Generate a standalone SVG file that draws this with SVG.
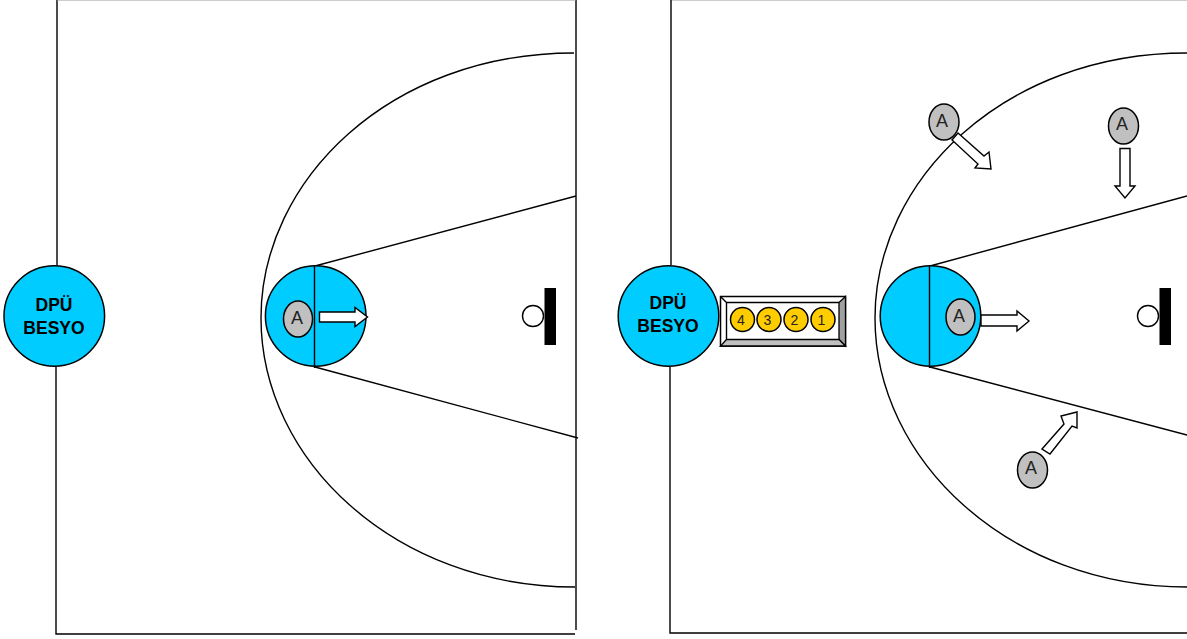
<svg xmlns="http://www.w3.org/2000/svg" width="1187" height="639" viewBox="0 0 1187 639">
<style>
.l{fill:none;stroke:#000;stroke-width:1.4}
.c{fill:#00ccff;stroke:#000;stroke-width:1.5}
.p{fill:#c0c0c0;stroke:#000;stroke-width:1.5}
.a{fill:#fff;stroke:#000;stroke-width:1.4}
.n{fill:#ffcc00;stroke:#000;stroke-width:1.5}
text{font-family:"Liberation Sans",Arial,sans-serif;text-anchor:middle;fill:#000}
.t{font-size:17.500px;font-weight:bold}
.m{font-size:18px;fill:#222}
.s{font-size:14px;fill:#222}
</style>
<rect width="1187" height="639" fill="#fff"/>
<g id="connectors">
<path class="l" d="M57 0V265M56 367V634H575M576 0V630"/>
<path d="M57 0H576M671 0H1187" fill="none" stroke="#999" stroke-width="1"/>
<path class="l" d="M574 53C390 53 261 180 261 318C261 460 395 587 575 587"/>
<path class="l" d="M315 266L576 196M315 367L578 438"/>
<path class="l" d="M671 0V265M670 367V633H1187"/>
<path class="l" d="M1187 53C1004 53 875 180 875 318C875 460 1009 587 1187 587"/>
<path class="l" d="M930 266L1187 196M930 367L1187 435"/>
</g>
<g id="left-base"><circle class="c" cx="54.300" cy="316" r="50.300"/><text class="t" x="54" y="311">DPÜ</text><text class="t" x="54" y="334">BESYO</text></g>
<g id="left-key"><circle class="c" cx="315.700" cy="316" r="50.300"/><path class="l" d="M314.500 265V368"/></g>
<g id="left-player"><ellipse class="p" cx="298" cy="319" rx="14.500" ry="18"/><text class="m" x="297" y="324">A</text></g>
<path id="left-arrow" class="a" d="M319.500 312H355V307.500L367.500 317L355 326.500V322H319.500Z"/>
<g id="left-hoop"><circle class="a" cx="533" cy="316" r="10.500"/><rect x="544.500" y="288" width="11.500" height="57" fill="#000"/></g>
<g id="right-base"><circle class="c" cx="668.500" cy="316" r="50.300"/><text class="t" x="668" y="309">DPÜ</text><text class="t" x="668" y="332">BESYO</text></g>
<g id="queue">
<rect x="720.500" y="296.500" width="125" height="49.500" fill="#fff" stroke="#000" stroke-width="1.500"/>
<path d="M845.500 296.500V346L839 339.500V302.500Z" fill="#a0a0a0" stroke="#000" stroke-width="1.300"/>
<path d="M720.500 346H845.500L839 339.500H726.500Z" fill="#c0c0c0" stroke="#000" stroke-width="1.300"/>
<path class="l" d="M720.500 296.500L726.500 302.500H839M726.500 302.500V339.500"/>
<circle class="n" cx="742.500" cy="319.500" r="12"/><text class="s" x="741" y="324.500">4</text>
<circle class="n" cx="769" cy="319.500" r="12"/><text class="s" x="767.500" y="324.500">3</text>
<circle class="n" cx="796" cy="319.500" r="12"/><text class="s" x="794.500" y="324.500">2</text>
<circle class="n" cx="823" cy="319.500" r="12"/><text class="s" x="821.500" y="324.500">1</text>
</g>
<g id="right-key"><circle class="c" cx="930.500" cy="316" r="50.300"/><path class="l" d="M929.500 265V368"/></g>
<g id="p1"><ellipse class="p" cx="960.500" cy="317" rx="14.500" ry="18"/><text class="m" x="959" y="322">A</text></g>
<path id="a1" class="a" d="M981 315H1017V311L1029 321L1017 331V326H981Z"/>
<g id="p2"><ellipse class="p" cx="944" cy="122" rx="15" ry="18"/><text class="m" x="942" y="127">A</text></g>
<path id="a2" class="a" d="M958 133L984 156L989 152L991 169L975 168L978 164L952 140Z"/>
<g id="p3"><ellipse class="p" cx="1123.500" cy="126" rx="15" ry="18"/><text class="m" x="1122" y="130">A</text></g>
<path id="a3" class="a" d="M1120 148.500H1130V186L1135 186L1125 198L1115 186L1120 186Z"/>
<g id="p4"><ellipse class="p" cx="1032.500" cy="470" rx="15" ry="18"/><text class="m" x="1031" y="474">A</text></g>
<path id="a4" class="a" d="M1042 449L1064 424L1061 416L1077 412L1077 428L1072 426L1050 454Z"/>
<g id="right-hoop"><circle class="a" cx="1148" cy="316" r="10.500"/><rect x="1159.500" y="288" width="11.500" height="57" fill="#000"/></g>
</svg>
